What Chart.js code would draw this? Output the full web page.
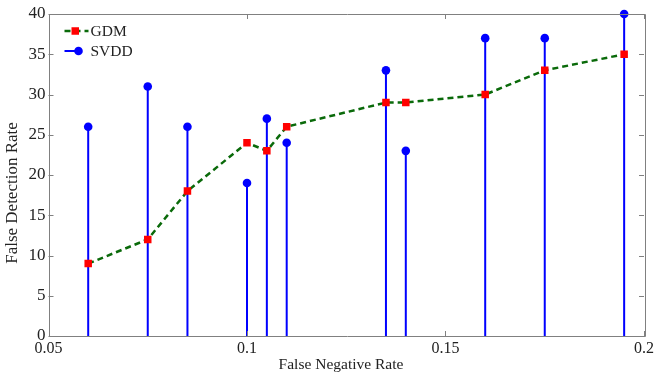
<!DOCTYPE html>
<html><head><meta charset="utf-8">
<script src="https://cdn.jsdelivr.net/npm/chart.js@4/dist/chart.umd.min.js"></script>
<style>html,body{margin:0;padding:0;background:#fff;}canvas{display:block;}</style>
</head><body>
<canvas id="c" width="654" height="375"></canvas>
<script>
const xValues = [0.06, 0.075, 0.085, 0.1, 0.105, 0.11, 0.135, 0.14, 0.16, 0.175, 0.195];
const gdmValues = [9, 12, 18, 24, 23, 26, 29, 29, 30, 33, 35];
const svddValues = [26, 31, 26, 19, 27, 24, 33, 23, 37, 37, 40];
const xTickValues = [0.05, 0.1, 0.15, 0.2];
const yTickValues = [0, 5, 10, 15, 20, 25, 30, 35, 40];
const seriesNames = ['GDM', 'SVDD'];
const xTitle = 'False Negative Rate';
const yTitle = 'False Detection Rate';

const FONT = "'Liberation Serif', 'Times New Roman', serif";
const gdmData = xValues.map((x, i) => ({x: x, y: gdmValues[i]}));
const svddData = [];
xValues.forEach((x, i) => {
  svddData.push({x: x, y: 0});
  svddData.push({x: x, y: svddValues[i]});
  svddData.push({x: x, y: null});
});

const framePlugin = {
  id: 'frame',
  afterDatasetsDraw(chart) {
    const {ctx, chartArea: a, scales} = chart;
    ctx.save();
    ctx.strokeStyle = '#808080';
    ctx.lineWidth = 1;
    ctx.beginPath();
    ctx.rect(Math.round(a.left) + 0.5, Math.round(a.top) + 0.5, Math.round(a.right - a.left), Math.round(a.bottom - a.top));
    ctx.stroke();
    const tl = 5;
    ctx.beginPath();
    xTickValues.forEach(v => {
      const px = Math.round(scales.x.getPixelForValue(v)) + 0.5;
      ctx.moveTo(px, a.bottom); ctx.lineTo(px, a.bottom - tl);
      ctx.moveTo(px, a.top); ctx.lineTo(px, a.top + tl);
    });
    yTickValues.forEach(v => {
      const py = Math.round(scales.y.getPixelForValue(v)) + 0.5;
      ctx.moveTo(a.left, py); ctx.lineTo(a.left + tl, py);
      ctx.moveTo(a.right, py); ctx.lineTo(a.right - tl, py);
    });
    ctx.stroke();
    ctx.restore();
  },
  afterDraw(chart) {
    const {ctx, chartArea: a} = chart;
    ctx.save();
    // axis titles
    ctx.fillStyle = '#222';
    ctx.textAlign = 'center';
    ctx.textBaseline = 'middle';
    ctx.font = '15.5px ' + FONT;
    ctx.fillText(xTitle, 341, 365);
    ctx.save();
    ctx.translate(13, 193);
    ctx.rotate(-Math.PI / 2);
    ctx.font = '17px ' + FONT;
    ctx.fillText(yTitle, 0, 0);
    ctx.restore();
    // legend
    const lx = a.left + 16, ly1 = a.top + 17, ly2 = a.top + 37;
    ctx.strokeStyle = '#0a6a0a';
    ctx.lineWidth = 2.5;
    ctx.setLineDash([6, 4]);
    ctx.beginPath(); ctx.moveTo(lx, ly1); ctx.lineTo(lx + 24, ly1); ctx.stroke();
    ctx.setLineDash([]);
    ctx.fillStyle = '#ff0000';
    ctx.fillRect(lx + 7, ly1 - 3.75, 7.5, 7.5);
    ctx.strokeStyle = '#0000ff';
    ctx.lineWidth = 2;
    ctx.beginPath(); ctx.moveTo(lx, ly2); ctx.lineTo(lx + 14, ly2); ctx.stroke();
    ctx.fillStyle = '#0000ff';
    ctx.beginPath(); ctx.arc(lx + 14, ly2, 4.3, 0, Math.PI * 2); ctx.fill();
    ctx.fillStyle = '#222';
    ctx.font = '15.5px ' + FONT;
    ctx.textAlign = 'left';
    ctx.fillText(seriesNames[0], lx + 26, ly1 + 1);
    ctx.fillText(seriesNames[1], lx + 26, ly2 + 1);
    ctx.restore();
  }
};

new Chart(document.getElementById('c'), {
  type: 'scatter',
  data: {
    datasets: [
      {
        label: seriesNames[0],
        data: gdmData,
        showLine: true,
        borderColor: '#0a6a0a',
        borderWidth: 2.5,
        borderDash: [6, 4],
        pointStyle: 'rect',
        pointRadius: 5.3,
        pointBackgroundColor: '#ff0000',
        pointBorderColor: '#ff0000',
        pointBorderWidth: 0,
        tension: 0
      },
      {
        label: seriesNames[1],
        data: svddData,
        showLine: true,
        spanGaps: false,
        borderColor: '#0000ff',
        borderWidth: 2,
        pointStyle: 'circle',
        pointRadius: ctx => (ctx.dataIndex % 3 === 1 ? 4.3 : 0),
        pointBackgroundColor: '#0000ff',
        pointBorderColor: '#0000ff',
        pointBorderWidth: 0,
        clip: false,
        tension: 0
      }
    ]
  },
  options: {
    responsive: false,
    animation: false,
    layout: {padding: {top: 14, right: 10, left: 0, bottom: 0}},
    plugins: {legend: {display: false}, tooltip: {enabled: false}},
    scales: {
      x: {
        type: 'linear', min: 0.05, max: 0.2,
        afterBuildTicks: s => { s.ticks = xTickValues.map(v => ({value: v})); },
        afterFit: s => { s.height = 39; s.paddingLeft = 0; s.paddingRight = 0; },
        grid: {display: false, drawTicks: false},
        border: {display: false},
        ticks: {
          padding: 3,
          color: '#222',
          font: {family: FONT, size: 16},
          callback: v => String(Number(v.toFixed(2)))
        },
        title: {display: false}
      },
      y: {
        type: 'linear', min: 0, max: 40,
        afterBuildTicks: s => { s.ticks = yTickValues.map(v => ({value: v})); },
        afterFit: s => { s.width = 48.5; s.paddingTop = 0; s.paddingBottom = 0; },
        grid: {display: false, drawTicks: false},
        border: {display: false},
        ticks: {
          padding: 3,
          color: '#222',
          font: {family: FONT, size: 17}
        },
        title: {display: false}
      }
    }
  },
  plugins: [framePlugin]
});
</script>
</body></html>
